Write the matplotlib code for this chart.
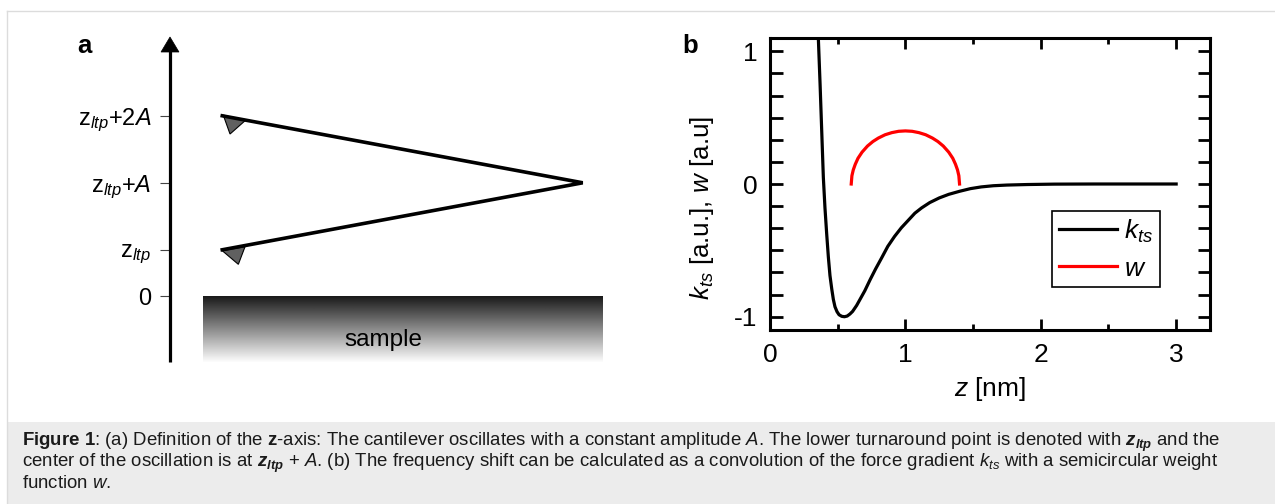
import numpy as np
import matplotlib
matplotlib.use("Agg")
import matplotlib.pyplot as plt
from matplotlib.patches import Polygon, Rectangle
from matplotlib.lines import Line2D

plt.rcParams['font.family'] = ['Liberation Sans', 'DejaVu Sans']
plt.rcParams['mathtext.fontset'] = 'custom'
plt.rcParams['mathtext.rm'] = 'Liberation Sans'
plt.rcParams['mathtext.it'] = 'Liberation Sans:italic'
plt.rcParams['mathtext.bf'] = 'Liberation Sans:bold'
plt.rcParams['mathtext.bfit'] = 'Liberation Sans:italic:bold'
plt.rcParams['axes.unicode_minus'] = False

# ---------------- data ----------------
# panel a: heights in units of the amplitude A (surface = 0)
level_values = [0.0, 0.69, 1.69, 2.69]
level_labels = ['0',
                r'$\mathregular{z}_{\mathit{ltp}}$',
                r'$\mathregular{z}_{\mathit{ltp}}\mathregular{+}\mathit{A}$',
                r'$\mathregular{z}_{\mathit{ltp}}\mathregular{+2}\mathit{A}$']
cantilever_x = [0.78, 6.16, 0.78]
cantilever_y = [2.69, 1.69, 0.69]
tip_upper_x = [0.795, 1.12, 0.896]
tip_upper_y = [2.70, 2.616, 2.418]
tip_lower_x = [0.78, 1.12, 1.02]
tip_lower_y = [0.676, 0.736, 0.473]
sample_x = [0.49, 6.45]
sample_y = [-0.985, 0.0]

# panel b: force gradient k_ts and semicircular weight w
kts_z = [0.350, 0.357, 0.370, 0.382, 0.394, 0.406, 0.419, 0.431, 0.443, 0.456,
         0.468, 0.480, 0.495, 0.510, 0.530, 0.550, 0.570, 0.590, 0.610, 0.640,
         0.670, 0.700, 0.740, 0.780, 0.825, 0.870, 0.920, 0.970, 1.020, 1.070,
         1.120, 1.180, 1.250, 1.320, 1.400, 1.480, 1.560, 1.650, 1.750, 1.900,
         2.100, 2.400, 3.000]
kts_val = [1.30, 1.10, 0.75, 0.40, 0.05, -0.18, -0.38, -0.55, -0.69, -0.79,
           -0.87, -0.925, -0.962, -0.985, -0.997, -1.000, -0.995, -0.980, -0.960, -0.915,
           -0.860, -0.805, -0.720, -0.640, -0.556, -0.470, -0.395, -0.330, -0.275, -0.220,
           -0.180, -0.140, -0.105, -0.078, -0.055, -0.035, -0.022, -0.013, -0.008, -0.004,
           -0.001, 0.000, 0.000]
w_z = [0.600, 0.605, 0.615, 0.630, 0.650, 0.680, 0.720, 0.760, 0.800, 0.850, 0.900, 0.950,
       1.000, 1.050, 1.100, 1.150, 1.200, 1.240, 1.280, 1.320, 1.350, 1.370, 1.385, 1.395, 1.400]
w_val = [0.000, 0.062, 0.106, 0.149, 0.194, 0.240, 0.286, 0.320, 0.346, 0.371, 0.387, 0.397,
         0.400, 0.397, 0.387, 0.371, 0.346, 0.320, 0.286, 0.240, 0.194, 0.149, 0.106, 0.062, 0.000]
x_major = [0, 1, 2, 3]
x_minor = [0.5, 1.5, 2.5, 3.0]
y_major = [-1, 0, 1]
y_minor = [-5/6, -4/6, -3/6, -2/6, -1/6, 1/6, 2/6, 3/6, 4/6, 5/6]

caption_lines = [
    r"$\mathbf{Figure\ 1}$: (a) Definition of the $\mathbf{z}$-axis: The cantilever oscillates with a constant amplitude $\mathit{A}$. The lower turnaround point is denoted with $\mathbfit{z}_{\mathbfit{ltp}}$ and the",
    r"center of the oscillation is at $\mathbfit{z}_{\mathbfit{ltp}}$ + $\mathit{A}$. (b) The frequency shift can be calculated as a convolution of the force gradient $\mathit{k}_{\mathit{ts}}$ with a semicircular weight",
    r"function $\mathit{w}$.",
]

# ---------------- figure ----------------
W, H = 1275, 504
fig = plt.figure(figsize=(W / 100, H / 100), dpi=100)

def fx(px):
    return px / W

def fy(py):
    return 1 - py / H

# frame and caption background
fig.add_artist(Line2D([fx(7), 1], [fy(11), fy(11)], color='#dcdcdc', lw=1))
fig.add_artist(Line2D([fx(7), fx(7)], [fy(11), 0], color='#dcdcdc', lw=1))
fig.add_artist(Rectangle((fx(8), 0), 1 - fx(8), fy(422), facecolor='#ececec',
                         edgecolor='none', transform=fig.transFigure))
for i, line in enumerate(caption_lines):
    fig.text(fx(22), fy(446 + 21 * i), line, fontsize=13.4, va='baseline', ha='left',
             color='#1a1a1a')

# ---------------- panel a ----------------
axa = fig.add_axes([fx(170), fy(362), fx(620) - fx(170), fy(37) - fy(362)])
axa.set_xlim(0, 450 / 67)
axa.set_ylim(-0.985, 3.866)
for s in axa.spines.values():
    s.set_visible(False)
axa.set_xticks([])
axa.set_yticks(level_values, level_labels)
axa.tick_params(axis='y', length=7, width=0.8, color='#444444', pad=6.5, labelsize=17)

grad = np.linspace(0.1, 0.99, 256).reshape(-1, 1)
axa.imshow(grad, extent=[sample_x[0], sample_x[1], sample_y[0], sample_y[1]],
           cmap='gray', vmin=0, vmax=1, aspect='auto', origin='upper')
axa.text(3.19, -0.66, 'sample', ha='center', va='center', fontsize=17.5)

axa.plot([0, 0], [-0.985, 3.70], color='black', lw=2.3, clip_on=False,
         solid_capstyle='butt')
axa.add_patch(Polygon([(-0.134, 3.642), (0.134, 3.642), (0, 3.866)], closed=True,
                      facecolor='black', edgecolor='black', lw=0.5, clip_on=False))
axa.plot(cantilever_x, cantilever_y, color='black', lw=2.6, solid_joinstyle='miter')
axa.add_patch(Polygon(list(zip(tip_upper_x, tip_upper_y)), closed=True,
                      facecolor='#606060', edgecolor='black', lw=0.8))
axa.add_patch(Polygon(list(zip(tip_lower_x, tip_lower_y)), closed=True,
                      facecolor='#606060', edgecolor='black', lw=0.8))

fig.text(fx(77), fy(53), 'a', fontsize=18.5, fontweight='bold', va='baseline')

# ---------------- panel b ----------------
axb = fig.add_axes([fx(770), fy(330), fx(1210) - fx(770), fy(38) - fy(330)])
axb.plot(kts_z, kts_val, color='black', lw=2.3, label=r'$\mathit{k}_{\mathit{ts}}$')
axb.plot(w_z, w_val, color='#ff0000', lw=2.3, label=r'$\mathit{w}$')
axb.set_xlim(0, 3.25)
axb.set_ylim(-1.1, 1.1)
axb.set_xticks(x_major, [str(v) for v in x_major])
axb.set_xticks(x_minor, minor=True)
axb.set_yticks(y_major, [str(v) for v in y_major])
axb.set_yticks(y_minor, minor=True)
for s in axb.spines.values():
    s.set_linewidth(2.2)
axb.tick_params(which='both', direction='in', top=True, right=True, width=2.0,
                labelsize=19, pad=9)
axb.tick_params(axis='x', which='major', length=8)
axb.tick_params(axis='x', which='minor', length=4)
axb.tick_params(axis='y', which='both', length=9)
axb.set_xlabel(r'$\mathit{z}$ [nm]', fontsize=19, labelpad=6)
axb.text(-0.1545, 0.418, r'$\mathit{k}_{\mathit{ts}}$ [a.u.], $\mathit{w}$ [a.u]',
         rotation=90, ha='center', va='center', fontsize=18.7, transform=axb.transAxes)
leg = axb.legend(loc='upper left', bbox_to_anchor=(0.641, 0.4075), borderaxespad=0,
                 frameon=True, fancybox=False, edgecolor='black', framealpha=1,
                 fontsize=19, handlelength=2.2, handletextpad=0.27, labelspacing=0.45,
                 borderpad=0.25)
leg.get_frame().set_linewidth(1.2)

fig.text(fx(682), fy(53), 'b', fontsize=18.5, fontweight='bold', va='baseline')

fig.savefig('out.png', dpi=100)
